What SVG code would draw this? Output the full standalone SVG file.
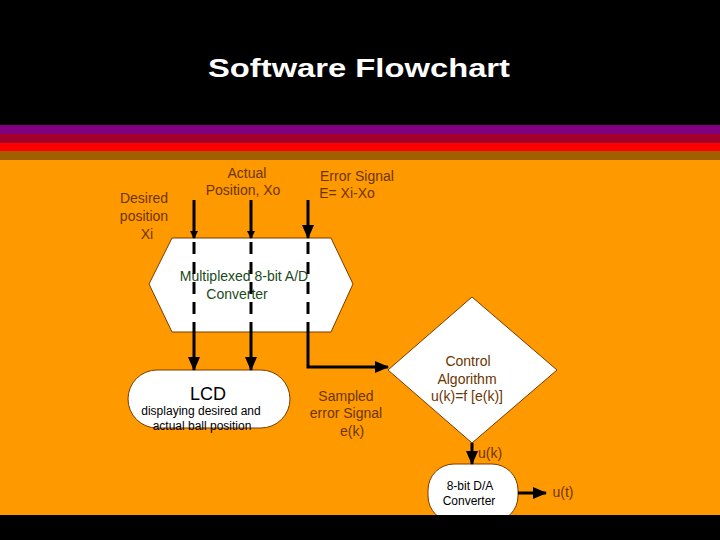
<svg xmlns="http://www.w3.org/2000/svg" width="720" height="540" viewBox="0 0 720 540">
<defs>
<marker id="ah" markerWidth="8" markerHeight="8" refX="7" refY="4" orient="auto" markerUnits="userSpaceOnUse" viewBox="0 0 8 8"><path d="M0,0 L8,4 L0,8 z" fill="#000"/></marker>
<marker id="ahb" markerWidth="14" markerHeight="12" refX="13" refY="6" orient="auto" markerUnits="userSpaceOnUse" viewBox="0 0 14 12"><path d="M0,0 L14,6 L0,12 z" fill="#000"/></marker>
</defs>
<style>
.t{font-family:"Liberation Sans",Arial,sans-serif;font-size:14px;fill:#6b3500;text-anchor:middle}
.n{fill:#fff;stroke:#7a3a00;stroke-width:1}
.c{stroke:#000;stroke-width:3;fill:none}
.d{stroke:#000;stroke-width:3;stroke-dasharray:12,8;fill:none}
</style>
<rect width="720" height="540" fill="#000"/>
<rect y="125" width="720" height="9" fill="#800080"/>
<rect y="134" width="720" height="9" fill="#a0002a"/>
<rect y="143" width="720" height="8" fill="#ff0000"/>
<rect y="151" width="720" height="9" fill="#a06000"/>
<rect y="160" width="720" height="355" fill="#ff9900"/>
<text x="208" y="77" textLength="302" lengthAdjust="spacingAndGlyphs" style="font-family:'Liberation Sans',Arial,sans-serif;font-size:26px;font-weight:bold;fill:#fff">Software Flowchart</text>
<g id="labels">
<text class="t" x="144" y="203">Desired</text><text class="t" x="144" y="221">position</text><text class="t" x="147" y="239">Xi</text>
<text class="t" x="247" y="178">Actual</text><text class="t" x="243" y="195">Position, Xo</text>
<text class="t" x="357" y="181">Error Signal</text><text class="t" x="347" y="198">E= Xi-Xo</text>
<text class="t" x="346" y="401">Sampled</text><text class="t" x="346" y="418">error Signal</text><text class="t" x="352" y="436">e(k)</text>
<text class="t" x="490" y="458">u(k)</text>
<text class="t" x="563" y="497">u(t)</text>
</g>
<g id="adc"><path class="n" d="M172,238 L331,238 L353,284 L331,332 L172,332 L149,284 Z"/>
<text class="t" x="244" y="281" style="fill:#1a4a1a">Multiplexed 8-bit A/D</text><text class="t" x="237" y="299" style="fill:#1a4a1a">Converter</text></g>
<g id="lcd"><rect class="n" x="128" y="370" width="162" height="58" rx="29"/>
<text class="t" x="208" y="400" style="font-size:18px;fill:#000">LCD</text>
<text class="t" x="201" y="415" style="font-size:12px;fill:#000">displaying desired and</text><text class="t" x="202" y="430" style="font-size:12px;fill:#000">actual ball position</text></g>
<g id="ctrl"><path class="n" d="M472,297 L557,370 L472,443 L388,370 Z"/>
<text class="t" x="468" y="366">Control</text><text class="t" x="467" y="384">Algorithm</text><text class="t" x="467" y="401">u(k)=f [e(k)]</text></g>
<g id="dac"><rect class="n" x="428" y="464" width="90" height="58" rx="26"/>
<text class="t" x="470" y="490" style="font-size:12px;fill:#000">8-bit D/A</text><text class="t" x="469" y="505" style="font-size:12px;fill:#000">Converter</text></g>
<rect y="515" width="720" height="25" fill="#000"/>
<g id="connectors">
<path class="c" d="M194,200 V238" marker-end="url(#ah)"/>
<path class="c" d="M251,200 V238" marker-end="url(#ah)"/>
<path class="c" d="M308,200 V238" marker-end="url(#ahb)"/>
<path class="d" d="M194,242 V332 M251,242 V332 M308,242 V332"/>
<path class="c" d="M194,332 V370" marker-end="url(#ahb)"/>
<path class="c" d="M251,332 V370" marker-end="url(#ahb)"/>
<path class="c" d="M308,332 V367 H388" marker-end="url(#ahb)"/>
<path class="c" d="M472,443 V464" marker-end="url(#ahb)"/>
<path class="c" d="M518,493 H546" marker-end="url(#ahb)"/>
</g>
</svg>
